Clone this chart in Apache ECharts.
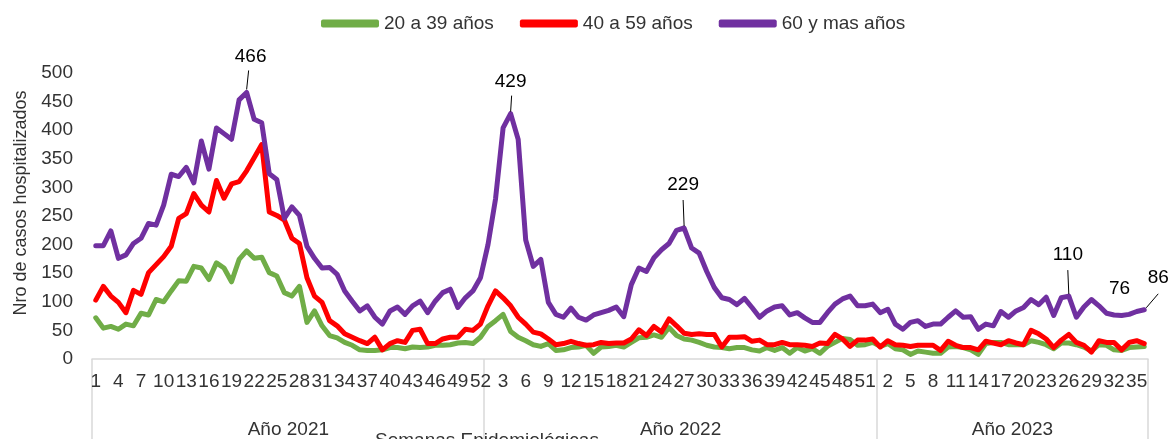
<!DOCTYPE html>
<html><head><meta charset="utf-8">
<script src="https://cdn.jsdelivr.net/npm/echarts@6/dist/echarts.min.js"></script>
<style>html,body{margin:0;padding:0;background:#fff}#c{width:1175px;height:439px}</style>
</head><body><div id="c"></div>
<script>
// ---------- DATA ----------
const years = ['Año 2021', 'Año 2022', 'Año 2023'];
const weeksPerYear = [52, 52, 36];
const seriesNames = ['20 a 39 años', '40 a 59 años', '60 y mas años'];

const g20a39 = [
  72,54,57,52,61,58,80,77,104,100,
  119,137,136,162,159,139,168,159,135,174,
  189,176,178,151,145,116,110,127,64,84,
  58,41,37,29,24,16,15,15,16,20,
  20,18,21,20,21,24,24,25,28,29,
  27,38,57,67,78,48,38,32,25,22,
  27,15,16,20,21,24,10,21,22,24,
  21,29,37,38,42,38,55,41,35,33,
  29,24,21,20,18,20,20,16,14,20,
  15,20,10,20,14,18,10,22,29,36,
  34,24,25,29,22,27,18,16,8,14,
  12,10,10,21,22,20,16,8,27,29,
  29,25,25,25,32,29,25,18,28,28,
  25,21,14,25,24,16,15,20,21,22
];
const g40a59 = [
  103,127,110,99,81,120,113,151,165,179,
  197,246,254,289,269,257,312,281,306,310,
  329,352,375,257,251,243,211,202,142,110,
  99,67,58,44,38,32,27,38,16,27,
  32,29,50,52,27,27,35,38,38,52,
  50,61,93,119,107,93,73,61,47,44,
  35,25,27,31,27,24,25,29,27,28,
  28,35,51,41,57,47,70,58,45,43,
  44,43,43,21,38,38,39,31,33,25,
  25,29,25,25,24,22,28,27,43,35,
  22,33,33,35,21,32,25,24,22,24,
  24,24,15,31,24,20,20,16,31,28,
  25,32,28,25,50,44,35,20,33,43,
  29,24,12,32,29,29,16,29,32,27
];
const g60mas = [
  198,198,224,176,182,202,211,237,234,269,
  323,319,335,308,381,332,404,394,384,453,
  466,419,413,324,314,246,266,251,197,176,
  159,160,148,119,101,84,93,73,61,84,
  91,78,93,101,81,101,116,122,90,107,
  119,142,200,280,404,429,384,208,162,174,
  99,78,73,89,73,68,77,81,85,91,
  74,130,159,153,177,191,202,225,229,194,
  185,153,125,107,104,95,106,90,73,84,
  91,93,77,81,72,64,64,81,96,105,
  110,93,93,96,81,87,61,52,64,67,
  57,61,61,73,84,73,74,52,61,58,
  83,73,84,90,104,95,108,76,107,110,
  73,91,104,93,80,77,76,78,83,86
];
// indices of the 60+ points carrying a value label
const annotatedIdx = [20, 55, 78, 129, 136, 139];

// ---------- BUILD ----------
const categories = [];
const yearOfCat = [];
const yearStart = [];
weeksPerYear.forEach((n, y) => {
  yearStart.push(categories.length);
  for (let w = 1; w <= n; w++) { categories.push(years[y] + '|' + w); yearOfCat.push(y); }
});
const yearMidIdx = weeksPerYear.map((n, y) => yearStart[y] + Math.floor(n / 2) - 1);

const FONT = '"Liberation Sans", Arial, sans-serif';
const TXT = '#333';
const COLORS = ['#70AD47', '#FF0000', '#7030A0'];
const BOX = '#D9D9D9';

// label offsets (px) relative to the data point: dx, dy and leader line x1,y1,x2,y2
const annStyle = {
  20: { dx: 4, dy: -36, line: [2, -22, 0, -3] },
  55: { dx: 0, dy: -32, line: [1, -18, 0, -2] },
  78: { dx: -1, dy: -43, line: [-1, -28, 0, -2] },
  129: { dx: -1, dy: -41, line: [-1, -26, 0, -2] },
  136: { dx: -2, dy: -27, line: null },
  139: { dx: 14, dy: -32, line: [14, -16, 2, -2] }
};

const lineSeries = [g20a39, g40a59, g60mas].map((d, k) => ({
  name: seriesNames[k],
  type: 'line',
  data: d,
  xAxisIndex: 0,
  showSymbol: false,
  symbol: 'none',
  lineStyle: { width: 5, color: COLORS[k], join: 'round', cap: 'round' },
  itemStyle: { color: COLORS[k] },
  z: 2 + k
}));

const annSeries = {
  type: 'custom',
  xAxisIndex: 0,
  silent: true,
  z: 10,
  data: annotatedIdx.map(i => [i, g60mas[i]]),
  renderItem: (params, api) => {
    const idx = api.value(0), v = api.value(1);
    const p = api.coord([idx, v]);
    const s = annStyle[idx];
    const children = [{
      type: 'text', x: p[0] + s.dx, y: p[1] + s.dy,
      style: { text: String(v), align: 'center', verticalAlign: 'middle', fontSize: 19, fontFamily: FONT, fill: '#000' }
    }];
    if (s.line) children.push({
      type: 'line',
      shape: { x1: p[0] + s.line[0], y1: p[1] + s.line[1], x2: p[0] + s.line[2], y2: p[1] + s.line[3] },
      style: { stroke: '#000', lineWidth: 1 }
    });
    return { type: 'group', children };
  }
};

const chart = echarts.init(document.getElementById('c'), null, { renderer: 'canvas' });
chart.setOption({
  animation: false,
  textStyle: { fontFamily: FONT },
  title: {
    text: 'Semanas Epidemiológicas',
    left: 370, top: 426,
    textStyle: { fontSize: 19, fontWeight: 'normal', color: TXT, fontFamily: FONT }
  },
  legend: {
    data: seriesNames,
    left: 316, top: 9,
    icon: 'roundRect',
    itemWidth: 58, itemHeight: 8, itemGap: 26,
    textStyle: { fontSize: 19, color: TXT, fontFamily: FONT }
  },
  grid: { left: 92, right: 27, top: 73, bottom: 77, containLabel: false },
  xAxis: [{
    type: 'category',
    data: categories,
    boundaryGap: true,
    position: 'bottom',
    axisLine: { show: true, lineStyle: { color: BOX, width: 1.5 } },
    axisTick: { show: false },
    axisLabel: {
      interval: 2, margin: 13, fontSize: 19, color: TXT, fontFamily: FONT,
      formatter: v => v.split('|')[1]
    },
    splitLine: { show: false }
  }, {
    type: 'category',
    data: categories,
    boundaryGap: true,
    position: 'bottom',
    axisLine: { show: false },
    axisTick: {
      show: true, length: 90,
      interval: (i) => yearStart.indexOf(i) >= 0,
      lineStyle: { color: BOX, width: 1.5 }
    },
    axisLabel: {
      interval: (i) => yearMidIdx.indexOf(i) >= 0,
      margin: 61, fontSize: 19, color: TXT, fontFamily: FONT,
      padding: [0, 0, 0, 8],
      formatter: (v, i) => years[yearOfCat[i]]
    },
    splitLine: { show: false }
  }],
  yAxis: {
    type: 'value',
    min: 0, max: 500, interval: 50,
    name: 'Nro de casos hospitalizados',
    nameLocation: 'middle',
    nameGap: 58,
    nameRotate: 90,
    nameTextStyle: { fontSize: 18, color: TXT, fontFamily: FONT, padding: [0, 0, 0, 26] },
    axisLine: { show: false },
    axisTick: { show: false },
    axisLabel: { margin: 19, fontSize: 19, color: TXT, fontFamily: FONT },
    splitLine: { show: false }
  },
  series: [...lineSeries, annSeries]
});
</script>
</body></html>
